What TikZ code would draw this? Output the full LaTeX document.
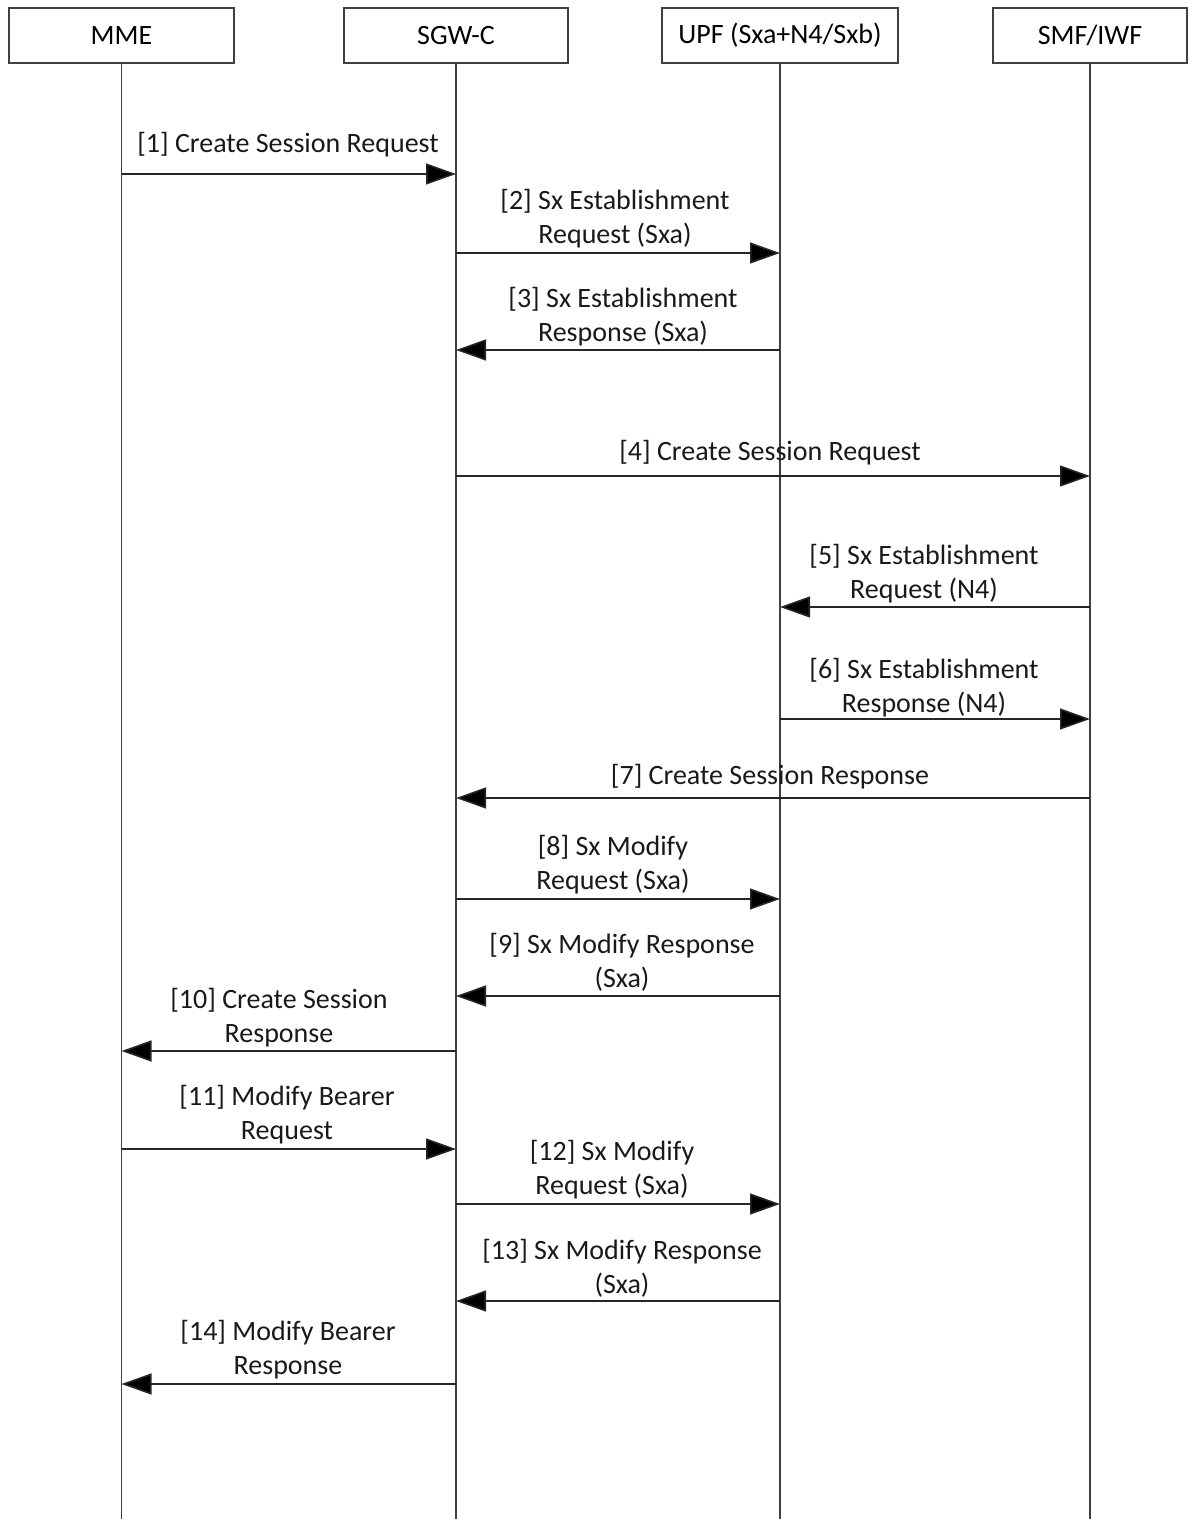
\documentclass[tikz,border=0pt]{standalone}
\usepackage{fontspec}
\setmainfont{Carlito}
\usetikzlibrary{arrows.meta}

\tikzset{
  entity/.style={draw=black!75, line width=0.8pt, minimum height=27.5pt, inner sep=0pt, font=\fontsize{14}{17}\selectfont},
  life/.style={draw=black!75, line width=0.8pt},
  msg/.style={draw=black!85, line width=0.8pt, -{Triangle[length=15pt,width=10.5pt,fill=black]}},
  lbl/.style={align=center, inner sep=0pt, font=\fontsize{14}{17}\selectfont, text=black!90},
}

\begin{document}
\begin{tikzpicture}[x=0.5pt,y=-0.5pt]
    \useasboundingbox (0,0) rectangle (1194,1519);

    % entities and lifelines
    \node[entity, minimum width=112.5pt] (mme) at (121.5,35.5) {MME};
    \node[entity, minimum width=112pt] (sgw) at (456,35.5) {SGW-C};
    \node[entity, minimum width=118pt] (upf) at (780,35.5) {UPF (Sxa+N4/Sxb)};
    \node[entity, minimum width=97pt] (smf) at (1090,35.5) {SMF/IWF};
    \draw[life] (mme) -- (mme |- 0,1519);
    \draw[life] (sgw) -- (sgw |- 0,1519);
    \draw[life] (upf) -- (upf |- 0,1519);
    \draw[life] (smf) -- (smf |- 0,1519);

    % messages
    \draw[msg] (mme |- 0,174) -- (sgw |- 0,174);
    \node[lbl] (m1) at (288,145) {[1] Create Session Request};
    \draw[msg] (sgw |- 0,253) -- (upf |- 0,253);
    \node[lbl] (m2) at (615,219) {[2] Sx Establishment\\Request (Sxa)};
    \draw[msg] (upf |- 0,350) -- (sgw |- 0,350);
    \node[lbl] (m3) at (623,317) {[3] Sx Establishment\\Response (Sxa)};
    \draw[msg] (sgw |- 0,476) -- (smf |- 0,476);
    \node[lbl] (m4) at (770,453) {[4] Create Session Request};
    \draw[msg] (smf |- 0,607) -- (upf |- 0,607);
    \node[lbl] (m5) at (924,574) {[5] Sx Establishment\\Request (N4)};
    \draw[msg] (upf |- 0,719) -- (smf |- 0,719);
    \node[lbl] (m6) at (924,688) {[6] Sx Establishment\\Response (N4)};
    \draw[msg] (smf |- 0,798) -- (sgw |- 0,798);
    \node[lbl] (m7) at (770,777) {[7] Create Session Response};
    \draw[msg] (sgw |- 0,899) -- (upf |- 0,899);
    \node[lbl] (m8) at (613,865) {[8] Sx Modify\\Request (Sxa)};
    \draw[msg] (upf |- 0,996) -- (sgw |- 0,996);
    \node[lbl] (m9) at (622,962) {[9] Sx Modify Response\\(Sxa)};
    \draw[msg] (sgw |- 0,1051) -- (mme |- 0,1051);
    \node[lbl] (m10) at (279,1018) {[10] Create Session\\Response};
    \draw[msg] (mme |- 0,1149) -- (sgw |- 0,1149);
    \node[lbl] (m11) at (287,1115) {[11] Modify Bearer\\Request};
    \draw[msg] (sgw |- 0,1204) -- (upf |- 0,1204);
    \node[lbl] (m12) at (612,1170) {[12] Sx Modify\\Request (Sxa)};
    \draw[msg] (upf |- 0,1301) -- (sgw |- 0,1301);
    \node[lbl] (m13) at (622,1268) {[13] Sx Modify Response\\(Sxa)};
    \draw[msg] (sgw |- 0,1384) -- (mme |- 0,1384);
    \node[lbl] (m14) at (288,1350) {[14] Modify Bearer\\Response};
\end{tikzpicture}
\end{document}
